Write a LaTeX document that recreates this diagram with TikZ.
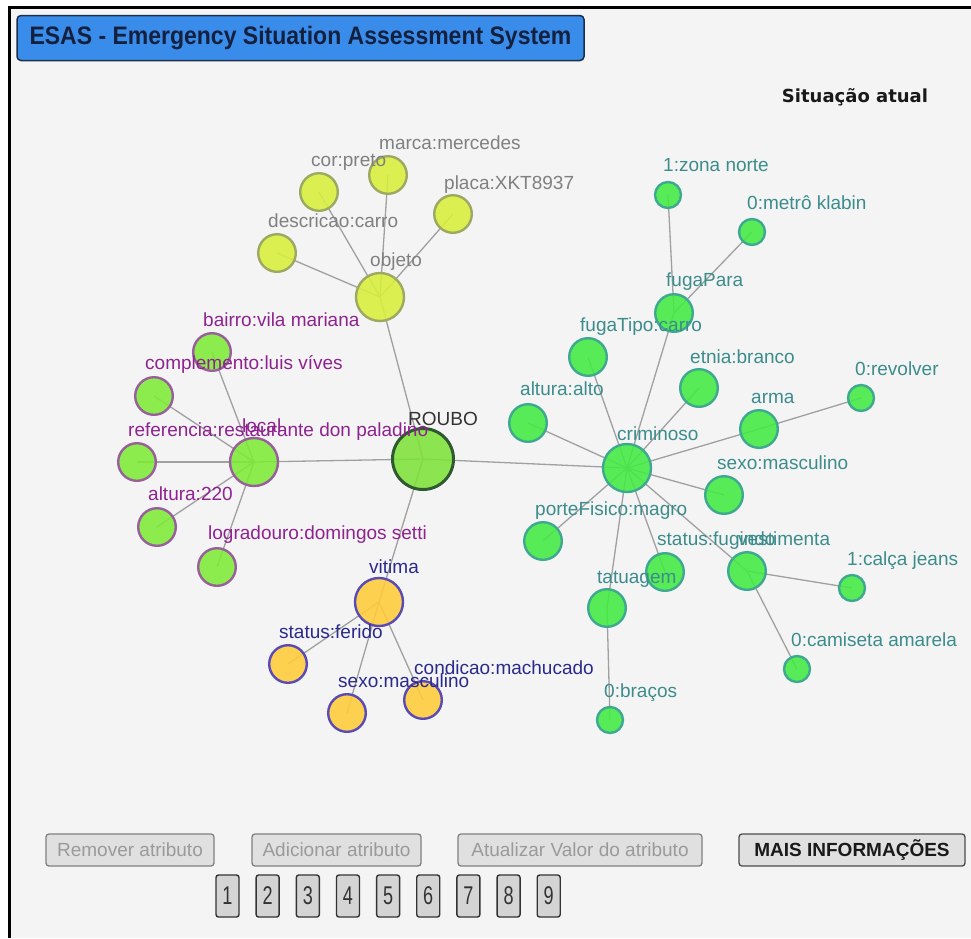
\documentclass[tikz,border=0pt]{standalone}
\usepackage{fontspec}
\setmainfont{Liberation Sans}
\newfontfamily\dejavufam{DejaVu Sans}
\pgfdeclarelayer{bgl}\pgfdeclarelayer{edl}\pgfsetlayers{bgl,edl,main}
\definecolor{pageF}{HTML}{F4F4F4}
\definecolor{titleF}{HTML}{3A8CEB}
\definecolor{titleD}{HTML}{1B2F4A}
\definecolor{titleT}{HTML}{13213F}
\definecolor{yelF}{HTML}{D8F03A}
\definecolor{yelD}{HTML}{9DA862}
\definecolor{yelT}{HTML}{808080}
\definecolor{locF}{HTML}{7EEB36}
\definecolor{locD}{HTML}{97609A}
\definecolor{locT}{HTML}{8E2290}
\definecolor{rouF}{HTML}{7EE23A}
\definecolor{rouD}{HTML}{2F5A2F}
\definecolor{rouT}{HTML}{333333}
\definecolor{vitF}{HTML}{FFCC3A}
\definecolor{vitD}{HTML}{5A4AB5}
\definecolor{vitT}{HTML}{2A2A8C}
\definecolor{criF}{HTML}{42EC42}
\definecolor{criD}{HTML}{3EA890}
\definecolor{criT}{HTML}{3C8C8C}
\definecolor{linkC}{HTML}{A0A0A0}
\definecolor{btnF}{HTML}{E0E0E0}
\definecolor{btnD}{HTML}{808080}
\definecolor{btnT}{HTML}{9A9A9A}
\definecolor{numF}{HTML}{D4D4D4}
\definecolor{numD}{HTML}{333333}
\definecolor{numT}{HTML}{333333}
\newcommand\digitlbl[1]{\scalebox{0.95}[1.35]{\fontsize{19}{19}\selectfont #1}}
\tikzset{
 gnode/.style={circle, inner sep=0pt, line width=2.4pt, fill opacity=0.88},
 szL/.style={minimum size=48pt},
 szM/.style={minimum size=37.6pt},
 szS/.style={minimum size=26pt},
 yelnode/.style={gnode, fill=yelF, draw=yelD},
 locnode/.style={gnode, fill=locF, draw=locD},
 vitnode/.style={gnode, fill=vitF, draw=vitD},
 crinode/.style={gnode, fill=criF, draw=criD},
 roubonode/.style={gnode, fill=rouF, draw=rouD, line width=3pt, minimum size=61pt},
 glabel/.style={anchor=base west, inner sep=0pt, font=\fontsize{19}{19}\selectfont},
 ylab/.style={glabel, text=yelT},
 llab/.style={glabel, text=locT},
 rlab/.style={glabel, text=rouT},
 vlab/.style={glabel, text=vitT},
 clab/.style={glabel, text=criT},
 link/.style={draw=linkC, line width=1.3pt},
 btn/.style={draw=btnD, fill=btnF, rounded corners=3pt, line width=1.3pt, minimum height=32pt, inner sep=0pt, font=\fontsize{19}{19}\selectfont, text=btnT},
 numbox/.style={draw=numD, fill=numF, rounded corners=2.5pt, line width=1.4pt, minimum width=23pt, minimum height=42pt, inner sep=0pt, text=numT},
}
\begin{document}
\begin{tikzpicture}[x=1pt,y=-1pt]
\useasboundingbox (0,0) rectangle (971,938);
\begin{pgfonlayer}{bgl}
\fill[white] (0,0) rectangle (971,938);
\fill[pageF] (9,7) rectangle (971,938);
\draw[line width=3pt, black] (9,938) -- (9,7) -- (971,7);
\end{pgfonlayer}

% title
\node[draw=titleD, fill=titleF, line width=1.5pt, rounded corners=4pt, minimum width=567pt, minimum height=45pt, inner sep=0pt, text=titleT, font=\bfseries\fontsize{23}{23}\selectfont] (title) at (300.5,38) {\scalebox{1}[1.1]{ESAS - Emergency Situation Assessment System}};
\node[font=\dejavufam\bfseries\fontsize{18}{18}\selectfont, text=black!90, inner sep=0pt] (situacao) at (855,97) {Situação atual};

% graph nodes
\node[roubonode] (roubo) at (423,459) {};
% objeto group
\node[yelnode, szL] (objeto) at (380,297) {};
\node[yelnode, szM] (descricao) at (277,253) {};
\node[yelnode, szM] (cor) at (319,192) {};
\node[yelnode, szM] (marca) at (388,175) {};
\node[yelnode, szM] (placa) at (453,214) {};
% local group
\node[locnode, szL] (local) at (254,462) {};
\node[locnode, szM] (bairro) at (212,352) {};
\node[locnode, szM] (complemento) at (154,396) {};
\node[locnode, szM] (referencia) at (137,462) {};
\node[locnode, szM] (altura220) at (157,527) {};
\node[locnode, szM] (logradouro) at (217,567) {};
% vitima group
\node[vitnode, szL] (vitima) at (379,602) {};
\node[vitnode, szM] (ferido) at (288,664) {};
\node[vitnode, szM] (sexov) at (347,713) {};
\node[vitnode, szM] (condicao) at (423,700) {};
% criminoso group
\node[crinode, szL] (criminoso) at (627,468) {};
\node[crinode, szM] (fugapara) at (674,313) {};
\node[crinode, szS] (zona) at (668,195) {};
\node[crinode, szS] (metro) at (752,232) {};
\node[crinode, szM] (fugatipo) at (588,357) {};
\node[crinode, szM] (etnia) at (699,388) {};
\node[crinode, szS] (revolver) at (861,398) {};
\node[crinode, szM] (arma) at (759,429) {};
\node[crinode, szM] (alturaalto) at (528,423) {};
\node[crinode, szM] (sexoc) at (724,495) {};
\node[crinode, szM] (porte) at (543,541) {};
\node[crinode, szM] (fugindo) at (665,572) {};
\node[crinode, szM] (vestimenta) at (747,571) {};
\node[crinode, szM] (tatuagem) at (607,608) {};
\node[crinode, szS] (bracos) at (610,720) {};
\node[crinode, szS] (calca) at (852,588) {};
\node[crinode, szS] (camiseta) at (797,669) {};

\begin{pgfonlayer}{edl}
\foreach \a/\b in {roubo/objeto, roubo/local, roubo/vitima, roubo/criminoso,
  objeto/descricao, objeto/cor, objeto/marca, objeto/placa,
  local/bairro, local/complemento, local/referencia, local/altura220, local/logradouro,
  vitima/ferido, vitima/sexov, vitima/condicao,
  criminoso/fugapara, criminoso/fugatipo, criminoso/etnia, criminoso/arma, criminoso/alturaalto,
  criminoso/sexoc, criminoso/porte, criminoso/fugindo, criminoso/vestimenta, criminoso/tatuagem,
  fugapara/zona, fugapara/metro, arma/revolver, vestimenta/calca, vestimenta/camiseta, tatuagem/bracos}
  \draw[link] (\a.center) -- (\b.center);
\end{pgfonlayer}

% labels
\node[rlab] (l-roubo) at (408,425) {ROUBO};
\node[ylab] (l-objeto) at (370,266) {objeto};
\node[ylab] (l-descricao) at (268,227) {descricao:carro};
\node[ylab] (l-cor) at (311,166) {cor:preto};
\node[ylab] (l-marca) at (379,149) {marca:mercedes};
\node[ylab] (l-placa) at (444,189) {placa:XKT8937};
\node[llab] (l-bairro) at (203,326) {bairro:vila mariana};
\node[llab] (l-complemento) at (145,369) {complemento:luis víves};
\node[llab] (l-referencia) at (128,436) {referencia:restaurante don paladino};
\node[llab] (l-local) at (242,432) {local};
\node[llab] (l-altura220) at (148,500) {altura:220};
\node[llab] (l-logradouro) at (208,539) {logradouro:domingos setti};
\node[vlab] (l-vitima) at (369,573) {vitima};
\node[vlab] (l-ferido) at (279,638) {status:ferido};
\node[vlab] (l-condicao) at (414,674) {condicao:machucado};
\node[vlab] (l-sexov) at (338,687) {sexo:masculino};
\node[clab] (l-zona) at (663,171) {1:zona norte};
\node[clab] (l-metro) at (747,209) {0:metrô klabin};
\node[clab] (l-fugapara) at (666,286) {fugaPara};
\node[clab] (l-fugatipo) at (580,331) {fugaTipo:carro};
\node[clab] (l-etnia) at (690,363) {etnia:branco};
\node[clab] (l-revolver) at (855,375) {0:revolver};
\node[clab] (l-alturaalto) at (520,395) {altura:alto};
\node[clab] (l-arma) at (751,403) {arma};
\node[clab] (l-criminoso) at (617,440) {criminoso};
\node[clab] (l-sexoc) at (717,469) {sexo:masculino};
\node[clab] (l-porte) at (535,515) {porteFisico:magro};
\node[clab] (l-fugindo) at (657,545) {status:fugindo};
\node[clab] (l-vestimenta) at (738,545) {vestimenta};
\node[clab] (l-calca) at (847,565) {1:calça jeans};
\node[clab] (l-tatuagem) at (597,583) {tatuagem};
\node[clab] (l-camiseta) at (791,646) {0:camiseta amarela};
\node[clab] (l-bracos) at (604,697) {0:braços};

% buttons
\node[btn, minimum width=168pt] (remover) at (130,850) {Remover atributo};
\node[btn, minimum width=169pt] (adicionar) at (336.5,850) {Adicionar atributo};
\node[btn, minimum width=244pt] (atualizar) at (580,850) {Atualizar Valor do atributo};
\node[btn, minimum width=226pt, draw=black!70, text=black!90, font=\bfseries\fontsize{19}{19}\selectfont] (mais) at (852,850) {MAIS INFORMAÇÕES};
\foreach \i in {1,...,9}
  \node[numbox] (num\i) at ({227.5+40.15*(\i-1)},896) {\digitlbl{\i}};
\end{tikzpicture}
\end{document}
